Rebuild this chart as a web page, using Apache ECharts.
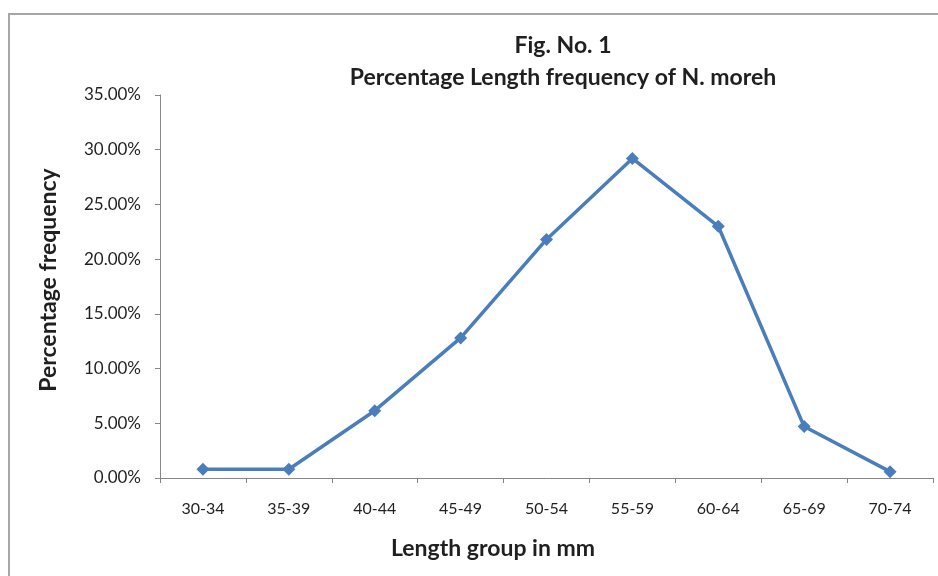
<!DOCTYPE html>
<html>
<head>
<meta charset="utf-8">
<title>Percentage Length frequency of N. moreh</title>
<script src="https://cdn.jsdelivr.net/npm/echarts@6/dist/echarts.min.js"></script>
<style>
  html, body { margin: 0; padding: 0; background: #ffffff; }
  #chart { width: 938px; height: 576px; }
</style>
</head>
<body>
<div id="chart"></div>
<script>
// Length groups (mm) and the share of fish in each group (%)
const lengthGroups = ['30-34', '35-39', '40-44', '45-49', '50-54', '55-59', '60-64', '65-69', '70-74'];
const percentFrequency = [0.8, 0.8, 6.15, 12.8, 21.8, 29.2, 23.0, 4.7, 0.58];

const FONT = 'Lato, "Open Sans", "Liberation Sans", sans-serif';
const AXIS_GRAY = '#868686';
const TEXT_DARK = '#1f1f1f';

const chart = echarts.init(document.getElementById('chart'), null, { renderer: 'canvas' });

chart.setOption({
  backgroundColor: '#ffffff',
  animation: false,
  title: {
    text: 'Fig. No. 1\nPercentage Length frequency of N. moreh',
    left: 558,
    top: 25,
    textAlign: 'center',
    textStyle: {
      fontFamily: FONT,
      fontSize: 23,
      fontWeight: 'bold',
      color: TEXT_DARK,
      lineHeight: 32,
      align: 'center'
    }
  },
  graphic: [{
    type: 'rect',
    shape: { x: 9, y: 14, width: 1000, height: 700 },
    style: { fill: 'none', stroke: '#a6a6a6', lineWidth: 2 },
    silent: true,
    z: -1
  }],
  grid: { left: 160, right: 5, top: 95, bottom: 98, containLabel: false },
  xAxis: {
    type: 'category',
    data: lengthGroups,
    boundaryGap: true,
    name: 'Length group in mm',
    nameLocation: 'middle',
    nameGap: 59,
    nameTextStyle: {
      fontFamily: FONT, fontSize: 23, fontWeight: 'bold', color: TEXT_DARK,
      padding: [0, 107, 0, 0]
    },
    axisLine: { show: true, lineStyle: { color: AXIS_GRAY, width: 1 } },
    axisTick: { show: true, alignWithLabel: false, length: 5, lineStyle: { color: AXIS_GRAY } },
    axisLabel: { fontFamily: FONT, fontSize: 16, color: TEXT_DARK, margin: 23 },
    splitLine: { show: false }
  },
  yAxis: {
    type: 'value',
    min: 0,
    max: 35,
    interval: 5,
    name: 'Percentage frequency',
    nameLocation: 'middle',
    nameGap: 100,
    nameRotate: 90,
    nameTextStyle: {
      fontFamily: FONT, fontSize: 23, fontWeight: 'bold', color: TEXT_DARK,
      padding: [0, 0, 0, 13]
    },
    axisLine: { show: true, lineStyle: { color: AXIS_GRAY, width: 1 } },
    axisTick: { show: true, length: 5, lineStyle: { color: AXIS_GRAY } },
    axisLabel: {
      fontFamily: FONT,
      fontSize: 17,
      color: TEXT_DARK,
      margin: 19,
      formatter: v => v.toFixed(2) + '%'
    },
    splitLine: { show: false }
  },
  series: [{
    type: 'line',
    data: percentFrequency,
    symbol: 'diamond',
    symbolSize: 13,
    lineStyle: { color: '#4a7ebb', width: 3.5 },
    itemStyle: { color: '#4a7ebb' },
    label: { show: false }
  }]
});
</script>
</body>
</html>
